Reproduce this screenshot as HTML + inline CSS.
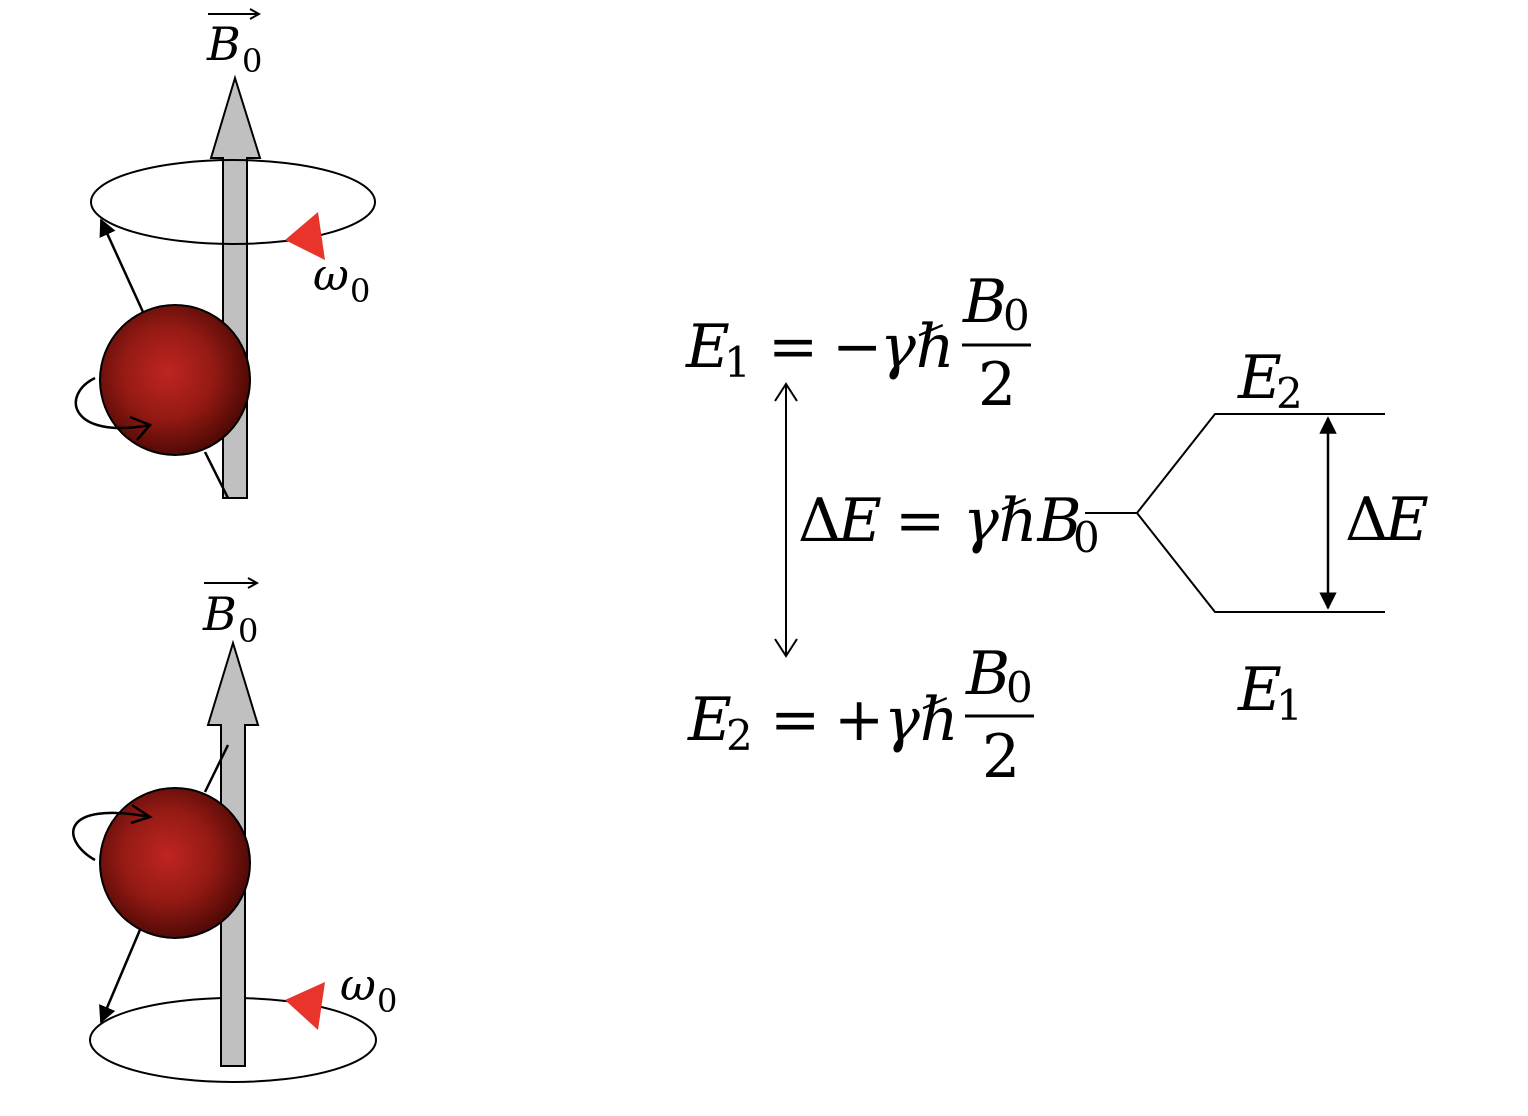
<!DOCTYPE html>
<html><head><meta charset="utf-8"><style>
html,body{margin:0;padding:0;background:#fff}
svg{display:block}
text{font-family:"DejaVu Serif","Liberation Serif",serif;fill:#000}
.i{font-style:italic}
</style></head><body>
<svg width="1528" height="1116" viewBox="0 0 1528 1116" xmlns="http://www.w3.org/2000/svg">
<defs>
<radialGradient id="g" cx="0.45" cy="0.45" r="0.55">
<stop offset="0" stop-color="#bf2520"/><stop offset="0.55" stop-color="#951a14"/><stop offset="1" stop-color="#520a06"/>
</radialGradient>
<marker id="ah" viewBox="0 0 10 10" refX="9" refY="5" markerWidth="7" markerHeight="7" orient="auto-start-reverse"><path d="M0,0 L10,5 L0,10 z" fill="#000"/></marker>
</defs>

<!-- TOP -->
<polygon points="223,498 223,158 211,158 235,78 260,158 247,158 247,498" fill="#c0c0c0" stroke="#000" stroke-width="2"/>
<ellipse cx="233" cy="202" rx="142" ry="42" fill="none" stroke="#000" stroke-width="2"/>
<polygon points="224,162 246,162 246,196 224,196" fill="#c0c0c0"/>
<path d="M205,452 L228,498" stroke="#000" stroke-width="2.5"/>
<line x1="143" y1="312" x2="101" y2="220" stroke="#000" stroke-width="2.5" marker-end="url(#ah)"/>
<polygon points="285,240 318,212 325,260" fill="#e8342a"/>
<circle cx="175" cy="380" r="75" fill="url(#g)" stroke="#000" stroke-width="2"/>
<path d="M95,378 C60,395 70,440 150,425" fill="none" stroke="#000" stroke-width="2.5"/>
<path d="M130,417 L150,425 L137,440" fill="none" stroke="#000" stroke-width="2.5"/>
<text x="207" y="60" class="i" font-size="46">B</text><text x="242" y="72" font-size="32">0</text>
<line x1="208" y1="14" x2="258" y2="14" stroke="#000" stroke-width="2"/><path d="M250,9 L259,14 L250,19" fill="none" stroke="#000" stroke-width="2"/>
<text x="313" y="290" class="i" font-size="44">ω</text><text x="350" y="302" font-size="32">0</text>

<!-- BOTTOM -->
<ellipse cx="233" cy="1040" rx="143" ry="42" fill="none" stroke="#000" stroke-width="2"/>
<polygon points="221,1066 221,725 208,725 233,643 258,725 245,725 245,1066" fill="#c0c0c0" stroke="#000" stroke-width="2"/>
<path d="M205,792 L228,745" stroke="#000" stroke-width="2.5"/>
<line x1="142" y1="925" x2="101" y2="1022" stroke="#000" stroke-width="2.5" marker-end="url(#ah)"/>
<polygon points="285,1000 325,982 318,1030" fill="#e8342a"/>
<circle cx="175" cy="863" r="75" fill="url(#g)" stroke="#000" stroke-width="2"/>
<path d="M95,860 C60,840 60,800 150,817" fill="none" stroke="#000" stroke-width="2.5"/>
<path d="M132,805 L150,817 L131,823" fill="none" stroke="#000" stroke-width="2.5"/>
<text x="203" y="630" class="i" font-size="46">B</text><text x="238" y="642" font-size="32">0</text>
<line x1="204" y1="583" x2="256" y2="583" stroke="#000" stroke-width="2"/><path d="M248,578 L257,583 L248,588" fill="none" stroke="#000" stroke-width="2"/>
<text x="340" y="1000" class="i" font-size="44">ω</text><text x="377" y="1012" font-size="32">0</text>

<!-- Equations -->
<g font-size="60">
<text x="686" y="367" class="i">E</text><text x="724" y="377" font-size="42">1</text>
<text x="768" y="367">=</text>
<text x="832" y="367">−</text><text x="880" y="367" class="i">γℏ</text>
<text x="963" y="322" class="i">B</text><text x="1003" y="330" font-size="42">0</text>
<line x1="962" y1="345" x2="1031" y2="345" stroke="#000" stroke-width="3"/>
<text x="978" y="405">2</text>

<text x="798" y="541">Δ</text><text x="838" y="541" class="i">E</text>
<text x="895" y="541">=</text>
<text x="963" y="541" class="i">γℏB</text><text x="1073" y="552" font-size="42">0</text>

<text x="688" y="740" class="i">E</text><text x="726" y="750" font-size="42">2</text>
<text x="770" y="740">=</text>
<text x="834" y="740">+</text><text x="884" y="740" class="i">γℏ</text>
<text x="966" y="694" class="i">B</text><text x="1006" y="702" font-size="42">0</text>
<line x1="965" y1="716" x2="1034" y2="716" stroke="#000" stroke-width="3"/>
<text x="982" y="777">2</text>

<text x="1238" y="398" class="i">E</text><text x="1276" y="408" font-size="42">2</text>
<text x="1238" y="710" class="i">E</text><text x="1276" y="720" font-size="42">1</text>
<text x="1345" y="540">Δ</text><text x="1385" y="540" class="i">E</text>
</g>

<line x1="786" y1="384" x2="786" y2="656" stroke="#000" stroke-width="2"/>
<path d="M775,401 L786,384 L797,401 M775,639 L786,656 L797,639" fill="none" stroke="#000" stroke-width="2"/>
<path d="M1085,513 L1137,513 L1215,414 L1385,414 M1137,513 L1215,612 L1385,612" fill="none" stroke="#000" stroke-width="2"/>
<line x1="1328" y1="418" x2="1328" y2="608" stroke="#000" stroke-width="2.5" marker-start="url(#ah)" marker-end="url(#ah)"/>
</svg>
</body></html>
